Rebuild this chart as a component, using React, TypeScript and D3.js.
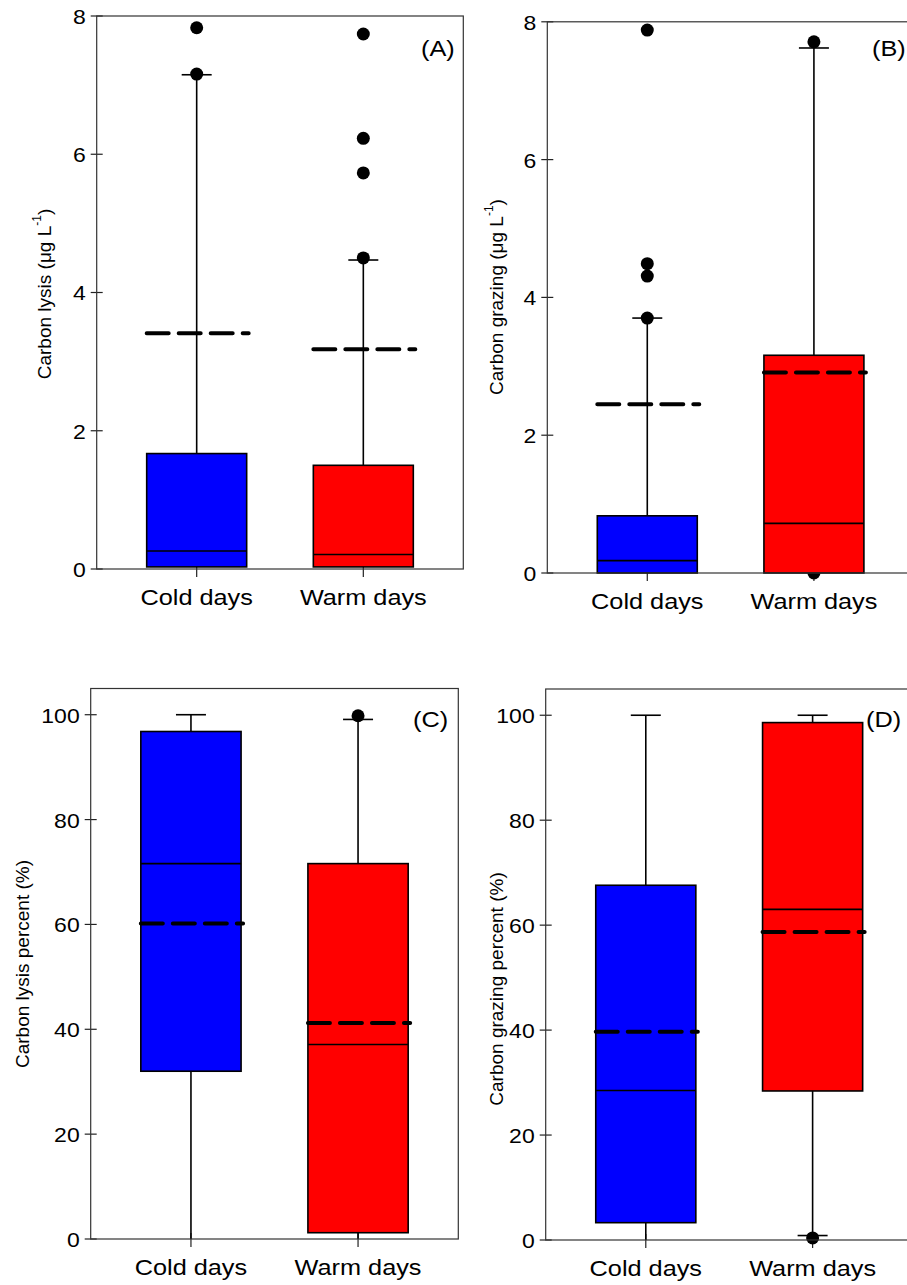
import React from "react";
import * as d3 from "d3";

// ---------- DATA ----------
const categories = ["Cold days", "Warm days"];
const boxColors = ["#0000FF", "#FF0000"];
const panelLetters = ["(A)", "(B)", "(C)", "(D)"];
const yTicksAmount = [0, 2, 4, 6, 8];
const yTicksPercent = [0, 20, 40, 60, 80, 100];

// Panel A: Carbon lysis (µg/L)
const lysisQ1 = [0.03, 0.03];
const lysisMedian = [0.26, 0.21];
const lysisQ3 = [1.67, 1.5];
const lysisMean = [3.41, 3.18];
const lysisWhiskerLow = [0.03, 0.03];
const lysisWhiskerHigh = [7.15, 4.47];
const lysisOutliers = [[7.16, 7.83], [4.5, 5.73, 6.23, 7.74]];

// Panel B: Carbon grazing (µg/L)
const grazingQ1 = [0, 0];
const grazingMedian = [0.18, 0.72];
const grazingQ3 = [0.83, 3.16];
const grazingMean = [2.45, 2.91];
const grazingWhiskerLow = [0, 0];
const grazingWhiskerHigh = [3.7, 7.62];
const grazingOutliers = [[3.7, 4.31, 4.49, 7.88], [7.71, 0]];

// Panel C: Carbon lysis percent (%)
const lysisPctQ1 = [32.0, 1.2];
const lysisPctMedian = [71.6, 37.1];
const lysisPctQ3 = [96.8, 71.6];
const lysisPctMean = [60.2, 41.2];
const lysisPctWhiskerLow = [0, 0];
const lysisPctWhiskerHigh = [100, 99.1];
const lysisPctOutliers = [[], [99.8]];

// Panel D: Carbon grazing percent (%)
const grazingPctQ1 = [3.3, 28.4];
const grazingPctMedian = [28.5, 63.0];
const grazingPctQ3 = [67.6, 98.6];
const grazingPctMean = [39.7, 58.7];
const grazingPctWhiskerLow = [0, 0.85];
const grazingPctWhiskerHigh = [100, 100];
const grazingPctOutliers = [[], [0.4]];

const panels = [
  { q1: lysisQ1, med: lysisMedian, q3: lysisQ3, mean: lysisMean, wl: lysisWhiskerLow, wh: lysisWhiskerHigh, out: lysisOutliers, domain: [0, 8], ticks: yTicksAmount, label: "Carbon lysis (\u03bcg L", unit: true },
  { q1: grazingQ1, med: grazingMedian, q3: grazingQ3, mean: grazingMean, wl: grazingWhiskerLow, wh: grazingWhiskerHigh, out: grazingOutliers, domain: [0, 8], ticks: yTicksAmount, label: "Carbon grazing (\u03bcg L", unit: true },
  { q1: lysisPctQ1, med: lysisPctMedian, q3: lysisPctQ3, mean: lysisPctMean, wl: lysisPctWhiskerLow, wh: lysisPctWhiskerHigh, out: lysisPctOutliers, domain: [0, 105], ticks: yTicksPercent, label: "Carbon lysis percent (%)", unit: false },
  { q1: grazingPctQ1, med: grazingPctMedian, q3: grazingPctQ3, mean: grazingPctMean, wl: grazingPctWhiskerLow, wh: grazingPctWhiskerHigh, out: grazingPctOutliers, domain: [0, 105], ticks: yTicksPercent, label: "Carbon grazing percent (%)", unit: false },
];

// ---------- LAYOUT ----------
const layouts = [
  { left: 96.7, right: 463.3, top: 16, bottom: 569, labelX: 44, labelY: 294, letterX: 421, letterY: 56 },
  { left: 547.3, right: 913.9, top: 21.8, bottom: 573, labelX: 496, labelY: 297, letterX: 872, letterY: 56 },
  { left: 90.7, right: 458.3, top: 688.5, bottom: 1239, labelX: 22.5, labelY: 964, letterX: 413, letterY: 727 },
  { left: 545.7, right: 912.7, top: 689, bottom: 1240, labelX: 496.5, labelY: 989, letterX: 866, letterY: 727 },
];

const SX = 1.15;
const FONT = "Arial, 'Liberation Sans', Helvetica, sans-serif";

function Panel({ p, L, letter }: any) {
  const y = d3.scaleLinear().domain(p.domain).range([L.bottom, L.top]);
  const x = d3.scalePoint<string>().domain(categories).range([L.left, L.right]).padding(0.6);
  const bw = x.step() * 0.6;
  const capW = 30;
  const fmt = d3.format("d");

  return (
    <g>
      <rect x={L.left} y={L.top} width={L.right - L.left} height={L.bottom - L.top} fill="#fff" />
      {p.ticks.map((t: number) => (
        <g key={"t" + t}>
          <line x1={L.left - 6} x2={L.left + 6} y1={y(t)} y2={y(t)} stroke="#222" strokeWidth={1.2} />
          <text
            transform={`translate(${L.left - 11},${y(t) + 1}) scale(${SX},1)`}
            textAnchor="end"
            dominantBaseline="central"
            fontSize={20}
            fill="#000"
          >
            {fmt(t)}
          </text>
        </g>
      ))}
      {categories.map((c) => {
        const cx = x(c) as number;
        return (
          <g key={"x" + c}>
            <line x1={cx} x2={cx} y1={L.bottom - 6} y2={L.bottom + 8} stroke="#222" strokeWidth={1.2} />
            <text
              transform={`translate(${cx},${L.bottom + 36}) scale(${SX},1)`}
              textAnchor="middle"
              fontSize={22}
              fill="#000"
            >
              {c}
            </text>
          </g>
        );
      })}
      {categories.map((c, j) => {
        const cx = x(c) as number;
        const x0 = cx - bw / 2;
        return (
          <g key={"b" + c}>
            {p.wh[j] > p.q3[j] && (
              <line x1={cx} x2={cx} y1={y(p.q3[j])} y2={y(p.wh[j])} stroke="#000" strokeWidth={1.6} />
            )}
            {p.wh[j] > p.q3[j] && (
              <line x1={cx - capW / 2} x2={cx + capW / 2} y1={y(p.wh[j])} y2={y(p.wh[j])} stroke="#000" strokeWidth={1.6} />
            )}
            {p.wl[j] < p.q1[j] && (
              <line x1={cx} x2={cx} y1={y(p.q1[j])} y2={y(p.wl[j])} stroke="#000" strokeWidth={1.6} />
            )}
            {p.wl[j] < p.q1[j] && p.wl[j] > 0 && (
              <line x1={cx - capW / 2} x2={cx + capW / 2} y1={y(p.wl[j])} y2={y(p.wl[j])} stroke="#000" strokeWidth={1.6} />
            )}
            {p.out[j].map((v: number, k: number) => (
              <circle key={k} cx={cx} cy={y(v)} r={6.5} fill="#000" />
            ))}
            <rect
              x={x0}
              y={y(p.q3[j])}
              width={bw}
              height={y(p.q1[j]) - y(p.q3[j])}
              fill={boxColors[j]}
              stroke="#000"
              strokeWidth={1.6}
            />
            <line x1={x0} x2={x0 + bw} y1={y(p.med[j])} y2={y(p.med[j])} stroke="#000" strokeWidth={1.6} />
            <line
              x1={x0}
              x2={x0 + bw + 2}
              y1={y(p.mean[j])}
              y2={y(p.mean[j])}
              stroke="#000"
              strokeWidth={4}
              strokeLinecap="round"
              strokeDasharray="22,10"
            />
          </g>
        );
      })}
      <rect x={L.left} y={L.top} width={L.right - L.left} height={L.bottom - L.top} fill="none" stroke="#333" strokeWidth={1.2} />
      <text
        transform={`translate(${L.letterX},${L.letterY}) scale(${SX},1)`}
        fontSize={22}
        fill="#000"
      >
        {letter}
      </text>
      <text
        transform={`translate(${L.labelX},${L.labelY}) rotate(-90)`}
        textAnchor="middle"
        dominantBaseline="central"
        fontSize={19}
        fill="#000"
      >
        {p.unit ? (
          <>
            <tspan>{p.label}</tspan>
            <tspan dy={-7} fontSize={12}>-1</tspan>
            <tspan dy={7}>)</tspan>
          </>
        ) : (
          p.label
        )}
      </text>
    </g>
  );
}

export default function App() {
  return (
    <svg
      width={907}
      height={1285}
      style={{ position: "absolute", left: 0, top: 0, background: "#fff" }}
      fontFamily={FONT}
    >
      <rect x={0} y={0} width={907} height={1285} fill="#fff" />
      {panels.map((p, i) => (
        <Panel key={i} p={p} L={layouts[i]} letter={panelLetters[i]} />
      ))}
    </svg>
  );
}
